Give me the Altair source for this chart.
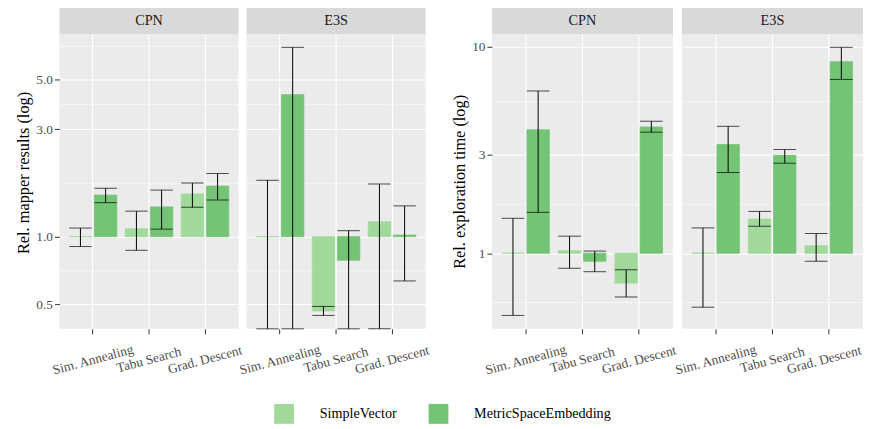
import math
import altair as alt
import pandas as pd

# ---------------- data ----------------
datasets = ["CPN", "E3S"]
algorithms = ["Sim. Annealing", "Tabu Search", "Grad. Descent"]
embeddings = ["SimpleVector", "MetricSpaceEmbedding"]
colors = ["#A1D99B", "#74C476"]

# order within each dataset: SA-SV, SA-MSE, TS-SV, TS-MSE, GD-SV, GD-MSE
mapper_mean = {"CPN": [1.00, 1.53, 1.084, 1.355, 1.547, 1.677],
               "E3S": [1.00, 4.27, 0.468, 0.786, 1.164, 1.017]}
mapper_lo = {"CPN": [0.904, 1.416, 0.870, 1.080, 1.350, 1.455],
             "E3S": [None, None, 0.447, None, None, 0.636]}   # None: runs off the bottom
mapper_hi = {"CPN": [1.092, 1.640, 1.298, 1.610, 1.730, 1.907],
             "E3S": [1.780, 6.930, 0.490, 1.063, 1.713, 1.370]}

time_mean = {"CPN": [1.00, 3.96, 1.029, 0.915, 0.717, 4.09],
             "E3S": [1.00, 3.36, 1.465, 2.98, 1.087, 8.47]}
time_lo = {"CPN": [0.500, 1.578, 0.846, 0.814, 0.614, 3.86],
           "E3S": [0.548, 2.460, 1.352, 2.730, 0.915, 6.95]}
time_hi = {"CPN": [1.477, 6.110, 1.210, 1.025, 0.832, 4.36],
           "E3S": [1.327, 4.120, 1.595, 3.180, 1.246, 9.94]}

FONT = "Liberation Serif"


def build_df(mean, lo, hi):
    rows = []
    for ds in datasets:
        i = 0
        for alg in algorithms:
            for emb in embeddings:
                rows.append(dict(dataset=ds, algorithm=alg, embedding=emb,
                                 value=mean[ds][i], lo=lo[ds][i], hi=hi[ds][i], base=1.0))
                i += 1
    df = pd.DataFrame(rows)
    vals = list(df["lo"].dropna()) + list(df["hi"])
    a, b = math.log10(min(vals)), math.log10(max(vals))
    pad = 0.05 * (b - a)
    domain = [10 ** (a - pad), 10 ** (b + pad)]
    df["lo"] = df["lo"].fillna(domain[0])
    return df, domain


def panel(df, domain, ds, W, H, first, major, minor, fmt, title, title_y=None, last=False):
    sub = df[df["dataset"] == ds]
    strip_df = pd.DataFrame({"dataset": [ds]})
    major_js = "[" + ",".join(repr(v) for v in major) + "]"
    is_major = f"indexof({major_js}, datum.value) >= 0"
    yscale = alt.Scale(type="log", domain=domain, nice=False, clamp=True)
    common = dict(values=sorted(major + minor), grid=True, gridColor="white",
                  gridWidth={"condition": {"test": is_major, "value": 1.1}, "value": 0.55},
                  domain=False)
    if first:
        extra = {} if title_y is None else {"titleY": title_y}
        yaxis = alt.Axis(title=title, tickColor="#333333", tickSize=5,
                         tickOpacity={"condition": {"test": is_major, "value": 1}, "value": 0},
                         labelExpr=f"{is_major} ? format(datum.value, '{fmt}') : ''",
                         labelColor="#4D4D4D", labelFontSize=13.5, labelPadding=2,
                         titleFontSize=16.5, titleFontWeight="normal", titleColor="black",
                         titlePadding=4, **extra, **common)
    else:
        yaxis = alt.Axis(title=title, labels=False, ticks=False, titleOpacity=0, **common)
    xextra = {}
    if last:
        # keep the right-most label inside the page
        xextra["labelOffset"] = {"condition": {"test": "datum.value === 'Grad. Descent'",
                                               "value": -5}, "value": 0}
    xaxis = alt.Axis(title=None, labelAngle=-15, labelAlign="center", labelBaseline="middle",
                     labelPadding=26, labelFontSize=13.5, labelColor="#4D4D4D",
                     tickColor="#333333", tickSize=5, grid=True, gridColor="white",
                     gridWidth=1.1, bandPosition=0.5, domain=False, **xextra)
    x = alt.X("algorithm:N", sort=algorithms, axis=xaxis,
              scale=alt.Scale(paddingInner=0, paddingOuter=0.1))
    xo = alt.XOffset("embedding:N", sort=embeddings,
                     scale=alt.Scale(paddingInner=0.111, paddingOuter=0.1667))
    base = alt.Chart(sub)
    cscale = alt.Scale(domain=embeddings, range=colors)
    bars = base.mark_bar(strokeWidth=0.8).encode(
        x=x, xOffset=xo,
        y=alt.Y("value:Q", scale=yscale, axis=yaxis), y2="base:Q",
        color=alt.Color("embedding:N", sort=embeddings, scale=cscale,
                        legend=alt.Legend(title=None, orient="none", direction="horizontal",
                                          legendX=217, legendY=374, padding=0,
                                          symbolType="square",
                                          symbolSize=400, symbolStrokeWidth=0,
                                          labelFontSize=14.3, labelFont=FONT, labelColor="black",
                                          labelOffset=26, columnPadding=32)),
        stroke=alt.Stroke("embedding:N", sort=embeddings, scale=cscale, legend=None),
    )
    cap = W * 0.4 / 3.2
    err = base.mark_rule(color="black", strokeWidth=1).encode(
        x=x, xOffset=xo, y=alt.Y("lo:Q", scale=yscale, axis=yaxis), y2="hi:Q")
    cap_lo = base.mark_tick(color="black", size=cap, thickness=1).encode(
        x=x, xOffset=xo, y=alt.Y("lo:Q", scale=yscale, axis=yaxis))
    cap_hi = base.mark_tick(color="black", size=cap, thickness=1).encode(
        x=x, xOffset=xo, y=alt.Y("hi:Q", scale=yscale, axis=yaxis))
    strip = alt.Chart(strip_df).mark_rect(color="#D9D9D9").encode(
        x=alt.value(0), x2=alt.value(W), y=alt.value(-27), y2=alt.value(0))
    strip_txt = alt.Chart(strip_df).mark_text(font=FONT, fontSize=14.4, color="#1A1A1A",
                                              baseline="middle").encode(
        text="dataset:N", x=alt.value(W / 2), y=alt.value(-13.5))
    return alt.layer(strip, strip_txt, bars, err, cap_lo, cap_hi).properties(width=W, height=H)


H = 298
mdf, mdom = build_df(mapper_mean, mapper_lo, mapper_hi)
tdf, tdom = build_df(time_mean, time_lo, time_hi)

m_major, m_minor = [0.5, 1.0, 3.0, 5.0], [0.7071, 1.7321, 3.873, 7.0711]
t_major, t_minor = [1, 3, 10], [0.5774, 1.7321, 5.4772]

left = alt.hconcat(
    panel(mdf, mdom, "CPN", 181, H, True, m_major, m_minor, ".1f",
          "Rel. mapper results (log)", title_y=140),
    panel(mdf, mdom, "E3S", 181, H, False, m_major, m_minor, ".1f", "Rel. mapper results (log)"),
    spacing=8, bounds="flush")
right = alt.hconcat(
    panel(tdf, tdom, "CPN", 183, H, True, t_major, t_minor, "d", "Rel. exploration time (log)"),
    panel(tdf, tdom, "E3S", 183, H, False, t_major, t_minor, "d", "Rel. exploration time (log)",
          last=True),
    spacing=9, bounds="flush")

chart = alt.hconcat(left, right, spacing=21).properties(
    padding={"left": 8, "top": -3, "right": 0, "bottom": 0}
).configure(font=FONT).configure_view(fill="#EBEBEB", strokeWidth=0).configure_axis(
    labelFont=FONT, titleFont=FONT
)

chart.save("out.html", embed_options={"renderer": "svg", "actions": False})
